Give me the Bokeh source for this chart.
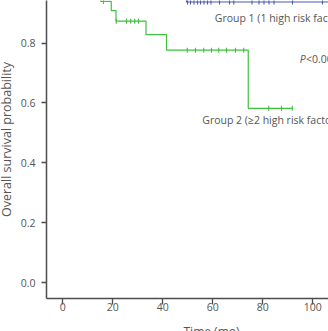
import numpy as np
from bokeh.plotting import figure
from bokeh.models import Range1d, FixedTicker, Label, CustomJSTickFormatter
from bokeh.core.properties import value
from bokeh.embed import file_html
from bokeh.resources import INLINE

# Kaplan-Meier step data (time in months, survival probability)
g1_times = [0, 49.5]
g1_surv = [1.0, 0.937]
g1_end = 110
g1_censor = [49.9, 51.1, 52.5, 53.9, 55.1, 56.5, 57.9, 59.3, 62.7, 66.7, 68.4,
             75.7, 78.5, 80.5, 82.5, 84.5, 91.9, 103.9]

g2_times = [0, 15.2, 19.4, 21.3, 33.3, 41.5, 74.2]
g2_surv = [1.0, 0.939, 0.908, 0.873, 0.828, 0.776, 0.582]
g2_end = 92.2
g2_censor = [16.3, 21.4, 25.5, 27.2, 28.8, 30.3,
             49.8, 53.1, 56.4, 59.5, 62.4, 65.5, 69.1, 72.4,
             82.4, 87.5, 91.8]

x_ticks = [0, 20, 40, 60, 80, 100]
y_ticks = [0.0, 0.2, 0.4, 0.6, 0.8, 1.0]

FONT = "Open Sans"
TXT = "#555555"
AXIS = "#4d4d4d"
GREEN = "#3fc03f"
BLUE = "#4a5cb0"
W, H = 328, 331


def step_xy(times, surv, end):
    xs, ys = [], []
    for i, (t, s) in enumerate(zip(times, surv)):
        nxt = times[i + 1] if i + 1 < len(times) else end
        xs += [t, nxt]
        ys += [s, s]
    return xs, ys


def surv_at(times, surv, t):
    idx = np.searchsorted(times, t, side="right") - 1
    return [surv[i] for i in idx]


p = figure(width=W, height=H, output_backend="svg", toolbar_location=None,
           x_range=Range1d(-6.5, 106.3), y_range=Range1d(-0.053, 0.942),
           min_border_left=46, min_border_right=0, min_border_top=0,
           min_border_bottom=33)
p.outline_line_color = None
p.grid.visible = False
p.background_fill_color = "white"
p.border_fill_color = "white"

for ax in (p.xaxis[0], p.yaxis[0]):
    ax.axis_line_color = AXIS
    ax.axis_line_width = 1.5
    ax.major_tick_line_color = AXIS
    ax.major_tick_line_width = 1.3
    ax.minor_tick_line_color = None
    ax.major_label_text_font = FONT
    ax.major_label_text_font_size = "10.5px"
    ax.major_label_text_color = TXT

p.xaxis.ticker = FixedTicker(ticks=x_ticks)
p.yaxis.ticker = FixedTicker(ticks=y_ticks)
p.xaxis.major_tick_in = 0
p.xaxis.major_tick_out = 6
p.xaxis.major_label_standoff = -2
p.yaxis.major_tick_in = 0
p.yaxis.major_tick_out = 5
p.yaxis.major_label_standoff = 6
p.yaxis.formatter = CustomJSTickFormatter(code="return tick.toFixed(1);")

# survival curves
x2, y2 = step_xy(g2_times, g2_surv, g2_end)
p.line(x2, y2, line_color=GREEN, line_width=1.2)
p.scatter(g2_censor, surv_at(g2_times, g2_surv, g2_censor), marker="dash",
          angle=np.pi / 2, size=5, line_color=GREEN, line_width=1.1)

x1, y1 = step_xy(g1_times, g1_surv, g1_end)
p.line(x1, y1, line_color=BLUE, line_width=1.2)
p.scatter(g1_censor, surv_at(g1_times, g1_surv, g1_censor), marker="dash",
          angle=np.pi / 2, size=5, line_color=BLUE, line_width=1.1)

# annotations
ANN = "10.5px"
p.text(x=[60.8], y=[0.884], text=["Group 1 (1 high risk factor)"],
       text_font=value(FONT), text_font_size=ANN, text_color=TXT,
       text_baseline="middle", text_align="left")
p.text(x=[55.8], y=[0.543], text=["Group 2 (\u22652 high risk factor)"],
       text_font=value(FONT), text_font_size=ANN, text_color=TXT,
       text_baseline="middle", text_align="left")
p.text(x=[94.8], y=[0.746], text=["P"], text_font=value(FONT),
       text_font_size=ANN, text_font_style="italic", text_color=TXT,
       text_baseline="middle", text_align="left")
p.text(x=[97.3], y=[0.746], text=["<0.001"], text_font=value(FONT),
       text_font_size=ANN, text_color=TXT,
       text_baseline="middle", text_align="left")

# axis titles, each in its own side panel
p.add_layout(Label(x=6, y=159, x_units="screen", y_units="screen",
                   text="Overall survival probability", angle=np.pi / 2,
                   text_font=FONT, text_font_size="12.5px", text_color=TXT,
                   text_align="center", text_baseline="middle"), "left")
p.add_layout(Label(x=165, y=-1, x_units="screen", y_units="screen",
                   text="Time (mo)", text_font=FONT, text_font_size="12px",
                   text_color=TXT, text_align="center",
                   text_baseline="alphabetic"), "below")

open("out.html", "w").write(file_html(p, INLINE))
